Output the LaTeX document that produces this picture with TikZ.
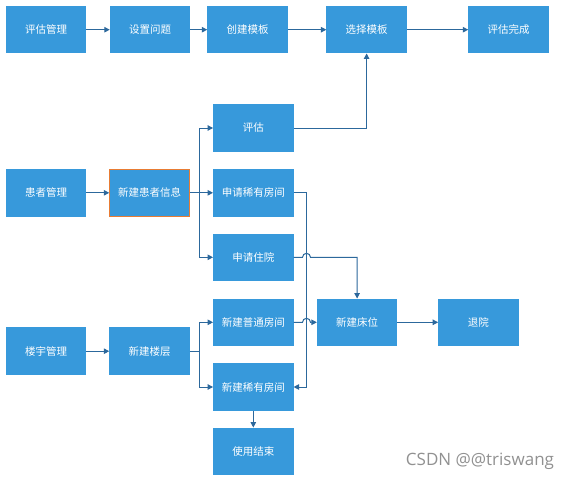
\documentclass[tikz,border=0pt]{standalone}
\usepackage{fontspec}
\newfontfamily\cjk{Noto Sans CJK SC}
\newfontfamily\wmfont{Open Sans}
\usetikzlibrary{arrows.meta}
\definecolor{boxblue}{RGB}{55,153,219}
\definecolor{linkblue}{RGB}{44,104,156}
\definecolor{hiorange}{RGB}{232,124,52}
\definecolor{wmgray}{RGB}{145,145,145}
\begin{document}
\begin{tikzpicture}[x=1pt,y=1pt,
 box/.style={fill=boxblue, minimum width=80.5pt, minimum height=47.5pt, inner sep=0pt, outer sep=0pt, text=white, font=\cjk\fontsize{10.5}{12}\selectfont},
 hibox/.style={box, draw=hiorange, line width=1pt},
 link/.style={draw=linkblue, line width=1pt, -{Triangle[length=5.5pt,width=5.5pt]}},
]
\useasboundingbox[fill=white] (0,0) rectangle (570,-482);
% top row
\node[box] (a1) at (46,-29.7) {评估管理};
\node[box] (a2) at (150,-29.7) {设置问题};
\node[box] (a3) at (247.5,-29.7) {创建模板};
\node[box] (a4) at (366.6,-29.7) {选择模板};
\node[box] (a5) at (508.5,-29.7) {评估完成};
% patient rows
\node[box] (pg) at (253.3,-128) {评估};
\node[box] (b1) at (46,-192.8) {患者管理};
\node[hibox] (b2) at (149.5,-192.8) {新建患者信息};
\node[box] (sq) at (253.3,-192.8) {申请稀有房间};
\node[box] (zy) at (253.3,-257.3) {申请住院};
% building rows
\node[box] (pt) at (253.3,-322.3) {新建普通房间};
\node[box] (cw) at (357.1,-322.3) {新建床位};
\node[box] (ty) at (478.4,-322.3) {退院};
\node[box] (c1) at (46,-351.2) {楼宇管理};
\node[box] (c2) at (149.5,-351.2) {新建楼层};
\node[box] (xr) at (253.3,-387) {新建稀有房间};
\node[box] (sy) at (253.3,-451.3) {使用结束};
% watermark
\node[text=wmgray, font=\wmfont\fontsize{17}{20}\selectfont, inner sep=0pt] (wm) at (480,-461) {CSDN @@triswang};
% connectors top
\draw[link] (a1) -- (a2);
\draw[link] (a2) -- (a3);
\draw[link] (a3) -- (a4);
\draw[link] (a4) -- (a5);
\draw[link] (pg.east) -| (a4.south);
% patient
\draw[link] (b1) -- (b2);
\draw[link] (b2.east) -- ++(9.8,0) |- (pg.west);
\draw[link] (b2) -- (sq);
\draw[link] (b2.east) -- ++(9.8,0) |- (zy.west);
\draw[link] (sq.east) -- ++(13,0) |- (xr.east);
\draw[link] (zy.east) -- (302.5,-257.3) arc[start angle=180, end angle=0, radius=4pt] -| (cw.north);
% building
\draw[link] (c1) -- (c2);
\draw[link] (c2.east) -- ++(9.8,0) |- (pt.west);
\draw[link] (c2.east) -- ++(9.8,0) |- (xr.west);
\draw[link] (pt.east) -- (302.5,-322.3) arc[start angle=180, end angle=0, radius=4pt] -- (cw.west);
\draw[link] (cw) -- (ty);
\draw[link] (xr) -- (sy);
\end{tikzpicture}
\end{document}
